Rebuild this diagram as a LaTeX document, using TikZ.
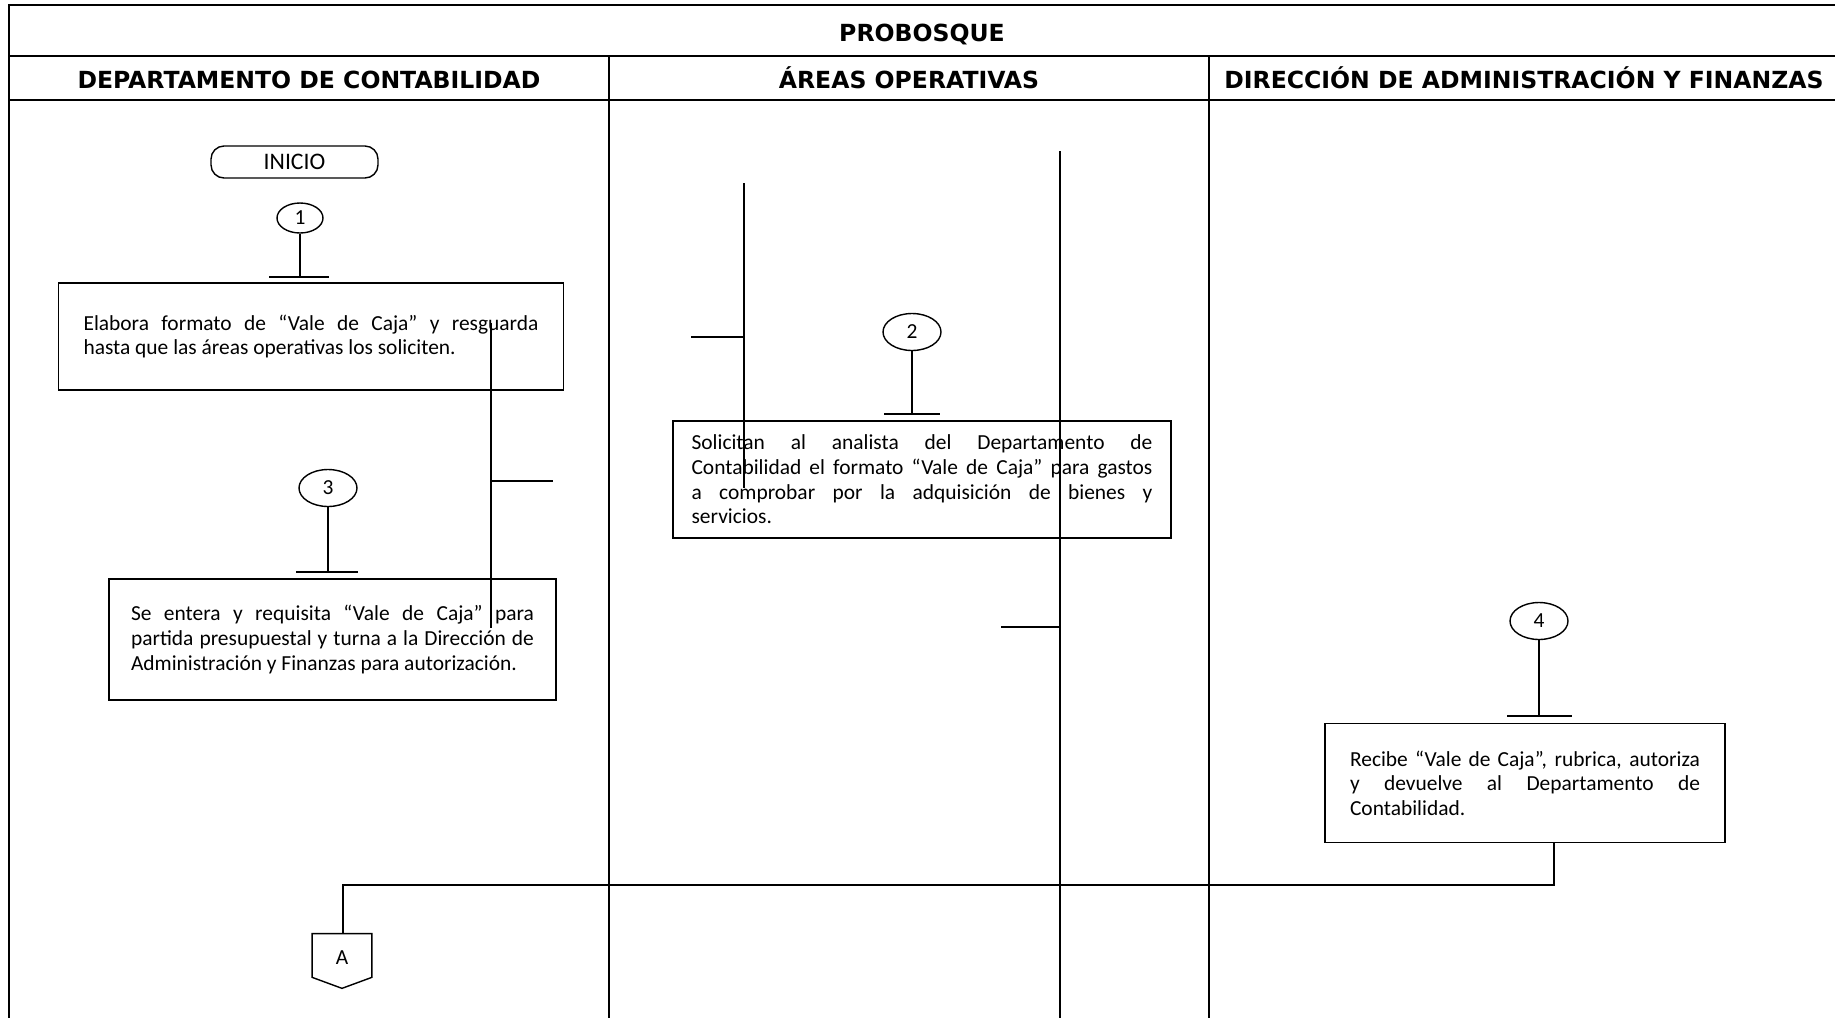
\documentclass[tikz,border=0pt]{standalone}
\usepackage{fontspec}
\setmainfont{Carlito}
\newfontfamily\headfont{DejaVu Sans}
\usetikzlibrary{calc,shapes.geometric,backgrounds}

\begin{document}
\begin{tikzpicture}[
    x=0.02cm, y=-0.02cm,
    every node/.style={font=\fontsize{12.2}{14}\selectfont},
    lanehead/.style={font=\headfont\bfseries\fontsize{13.4}{15}\selectfont, anchor=base},
    frameline/.style={line width=1.2pt},
    conn/.style={line width=0.8pt},
    startbox/.style={draw, line width=0.8pt, rounded corners=0.26cm,
                     minimum width=3.34cm, minimum height=0.64cm, inner sep=0pt,
                     font=\fontsize{13.5}{15}\selectfont},
    stepnum/.style={draw, ellipse, line width=0.8pt, inner sep=0pt,
                    minimum width=1.16cm, minimum height=0.74cm},
    procbox/.style={draw, line width=0.9pt, align=justify, inner sep=0pt},
    offpage/.style={inner sep=0pt, minimum width=1.18cm, minimum height=1.08cm,
                    text depth=0.14cm},
]
\useasboundingbox (0,0) rectangle (1835,1018);

% ── Background ──────────────────────────────────────────────────
\begin{scope}[on background layer]
  \fill[white] (0,0) rectangle (1835,1018);
\end{scope}

% ── Frame and lanes ─────────────────────────────────────────────
\draw[frameline] (1835,5) -- (9,5) -- (9,1018);
\draw[frameline] (9,56) -- (1835,56);
\draw[frameline] (9,100) -- (1835,100);
\draw[frameline] (609,56) -- (609,1018);
\draw[frameline] (1209,56) -- (1209,1018);

\node[lanehead] (title) at (922,41) {PROBOSQUE};
\node[lanehead] (lane1) at (309,88.5) {DEPARTAMENTO DE CONTABILIDAD};
\node[lanehead] (lane2) at (909,88.5) {ÁREAS OPERATIVAS};
\node[lanehead] (lane3) at (1524,88.5) {DIRECCIÓN DE ADMINISTRACIÓN Y FINANZAS};

% ── Departamento de Contabilidad ────────────────────────────────
\node[startbox] (inicio) at (294.5,162) {INICIO};

\node[stepnum, minimum width=0.92cm, minimum height=0.6cm] (n1) at (300,218) {1};
\coordinate (t1) at (300,277);
\draw[conn] (n1) -- (t1) ++(-31,0) -- ++(60,0);

\node[procbox, minimum width=10.1cm, minimum height=2.14cm, text width=9.1cm]
  (p1) at (311,336.5)
  {Elabora formato de “Vale de Caja” y resguarda\linebreak
   hasta que las áreas operativas los soliciten.};

\node[stepnum] (n3) at (328,488) {3};
\coordinate (t3) at (328,572);
\draw[conn] (n3) -- (t3) ++(-32,0) -- ++(62,0);

\node[procbox, minimum width=8.94cm, minimum height=2.42cm, text width=8.06cm]
  (p3) at (332.5,639.5)
  {Se entera y requisita “Vale de Caja” para\linebreak
   partida presupuestal y turna a la Dirección de\linebreak
   Administración y Finanzas para autorización.};

% stray guide lines
\coordinate (s1a) at (491,323);
\coordinate (s1b) at (491,628);
\coordinate (s1c) at (553,481);
\draw[conn] (s1a) -- (s1b) (s1a |- s1c) -- (s1c);

% ── Áreas Operativas ────────────────────────────────────────────
\node[stepnum] (n2) at (912,332) {2};
\coordinate (t2) at (912,414);
\draw[conn] (n2) -- (t2) ++(-28,0) -- ++(56,0);

\node[procbox, minimum width=9.96cm, minimum height=2.34cm, text width=9.22cm]
  (p2) at (922,479.5)
  {Solicitan al analista del Departamento de\linebreak
   Contabilidad el formato “Vale de Caja” para gastos\linebreak
   a comprobar por la adquisición de bienes y\linebreak
   servicios.};

% stray guide lines
\coordinate (s2a) at (744,183);
\coordinate (s2b) at (744,488);
\coordinate (s2c) at (691,337);
\draw[conn] (s2a) -- (s2b) (s2a |- s2c) -- (s2c);

\coordinate (s3a) at (1060,151);
\coordinate (s3b) at (1060,1018);
\coordinate (s3c) at (1001,627);
\draw[conn] (s3a) -- (s3b) (s3a |- s3c) -- (s3c);

% ── Dirección de Administración y Finanzas ──────────────────────
\node[stepnum] (n4) at (1539,621) {4};
\coordinate (t4) at (1539,716);
\draw[conn] (n4) -- (t4) ++(-32,0) -- ++(65,0);

\node[procbox, minimum width=8.0cm, minimum height=2.38cm, text width=7.0cm]
  (p4) at (1525,783)
  {Recibe “Vale de Caja”, rubrica, autoriza\linebreak
   y devuelve al Departamento de\linebreak
   Contabilidad.};

% ── Return to Contabilidad ──────────────────────────────────────
\node[offpage] (conA) at (342,961) {A};
\draw[conn] (conA.north west) -- (conA.north east)
  -- ([yshift=0.22cm]conA.south east) -- (conA.south)
  -- ([yshift=0.22cm]conA.south west) -- cycle;

\coordinate (j4) at (1554,885);
\coordinate (jA) at (343,885);
\draw[conn] (p4.south -| j4) -- (j4) -- (jA) -- (conA.north -| jA);

\end{tikzpicture}
\end{document}
